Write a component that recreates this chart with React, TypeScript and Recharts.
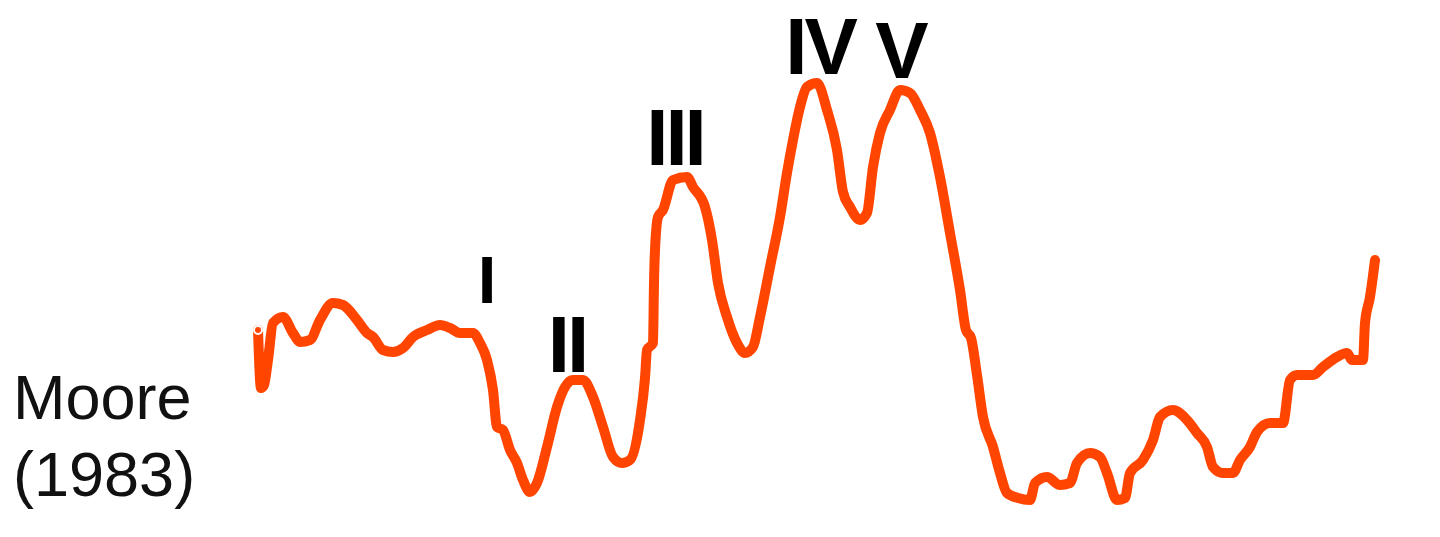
import React from 'react';
import { LineChart, Line, XAxis, YAxis, ReferenceDot } from 'recharts';

// trace: latency (arbitrary units) vs. amplitude
const latency = [
  0.8, 1.1, 1.4, 1.8, 2.3, 3.3, 4.3, 5.0, 6.0, 7.0, 8.3, 9.3, 10.7, 11.7, 12.3, 13.3, 14.3, 15.3, 16.3, 17.7,
  19.0, 20.0, 21.0, 22.3, 23.0, 23.7, 24.3, 24.7, 25.3, 26.0, 26.7, 27.3, 28.0, 28.7, 29.7, 30.7, 31.5, 32.3,
  33.3, 34.3, 35.3, 36.3, 37.2, 38.0, 39.0, 39.5, 39.7, 40.3, 40.4, 40.5, 40.8, 41.3, 42.3, 43.7, 44.3, 45.5,
  46.2, 46.8, 47.7, 48.7, 49.5, 50.3, 51.0, 52.0, 53.0, 53.7, 54.3, 55.0, 55.7, 56.7, 57.7, 58.7, 59.3, 60.0,
  61.0, 61.7, 62.3, 63.0, 64.0, 65.0, 66.0, 67.0, 68.0, 69.0, 70.0, 71.0, 71.6, 72.1, 72.7, 73.3, 74.3, 75.0,
  75.7, 76.8, 78.0, 78.5, 79.7, 81.0, 82.0, 82.7, 84.0, 85.0, 85.7, 86.7, 87.5, 88.0, 89.3, 90.3, 91.0, 92.3,
  93.7, 94.7, 95.7, 96.3, 97.3, 98.3, 99.0, 100.0, 100.7, 102.0, 103.3, 104.0, 104.7, 106.3, 107.3, 108.7,
  109.7, 110.2, 111.3, 111.5, 112.0, 112.5,
];
const amplitude = [
  17.0, 11.2, 11.5, 14.0, 17.7, 18.3, 16.7, 15.8, 16.0, 18.0, 19.7, 19.5, 18.0, 16.7, 16.3, 15.0, 14.8, 15.2, 16.3, 17.0,
  17.5, 17.2, 16.7, 16.7, 15.7, 14.0, 11.0, 7.3, 7.0, 5.0, 3.7, 2.0, 0.8, 1.7, 5.3, 9.3, 11.3, 12.0,
  12.0, 10.3, 7.3, 4.3, 3.7, 4.0, 8.0, 12.2, 15.0, 15.7, 21.7, 25.0, 28.3, 29.0, 32.0, 32.3, 31.3, 29.3,
  26.0, 21.7, 18.3, 15.7, 14.7, 15.3, 18.3, 23.3, 28.3, 32.7, 36.0, 39.3, 41.3, 41.7, 39.0, 35.0, 30.8, 29.3,
  28.0, 28.7, 33.3, 36.7, 39.0, 41.0, 40.7, 39.0, 36.7, 32.3, 26.7, 21.0, 17.0, 16.2, 12.5, 8.3, 5.3, 2.7,
  0.7, 0.2, 0.0, 1.7, 2.3, 1.5, 1.7, 3.7, 4.7, 4.3, 2.7, 0.0, 0.2, 2.7, 4.0, 6.0, 8.3, 9.0,
  8.0, 6.7, 5.3, 3.3, 2.7, 2.7, 4.0, 5.3, 6.8, 7.7, 7.7, 12.0, 12.5, 12.5, 13.3, 14.3,
  14.7, 14.0, 14.0, 17.7, 20.3, 24.0,
];

const waveNames = ['I', 'II', 'III', 'IV', 'V'];
const waveLatency = [23.7, 31.7, 42.5, 57.0, 65.2];
const waveLabelY = [19.7, 12.8, 33.5, 42.6, 42.2];
const waveFontSize = [67, 80, 80, 80, 80];

const data = latency.map((t, i) => ({ t, v: amplitude[i] }));

const WaveLabel = (text: string, size: number) => (props: any) => (
  <text
    x={props.cx}
    y={props.cy}
    textAnchor="middle"
    fontFamily="'Liberation Sans', Arial, sans-serif"
    fontWeight="bold"
    fontSize={size}
    letterSpacing={text.length > 1 ? -3 : 0}
    fill="#000"
  >
    {text}
  </text>
);

export default function App() {
  return (
    <div style={{ position: 'absolute', left: 0, top: 0, width: 1440, height: 537, background: '#fff' }}>
      <LineChart width={1440} height={537} data={data} margin={{ top: 0, right: 0, bottom: 0, left: 0 }}>
        <XAxis dataKey="t" type="number" domain={[-25, 119]} hide />
        <YAxis type="number" domain={[-3.7, 50]} hide />
        <Line
          dataKey="v"
          type="monotone"
          stroke="#FF4500"
          strokeWidth={10}
          strokeLinecap="round"
          strokeLinejoin="round"
          dot={false}
          isAnimationActive={false}
        />
        {waveNames.map((n, i) => (
          <ReferenceDot
            key={n}
            x={waveLatency[i]}
            y={waveLabelY[i]}
            r={1}
            shape={WaveLabel(n, waveFontSize[i])}
          />
        ))}
      </LineChart>
      <div
        style={{
          position: 'absolute',
          left: 13,
          top: 359,
          fontFamily: "'Liberation Sans', Arial, sans-serif",
          fontSize: 63,
          lineHeight: '77px',
          color: '#111',
        }}
      >
        Moore
        <br />
        (1983)
      </div>
    </div>
  );
}
